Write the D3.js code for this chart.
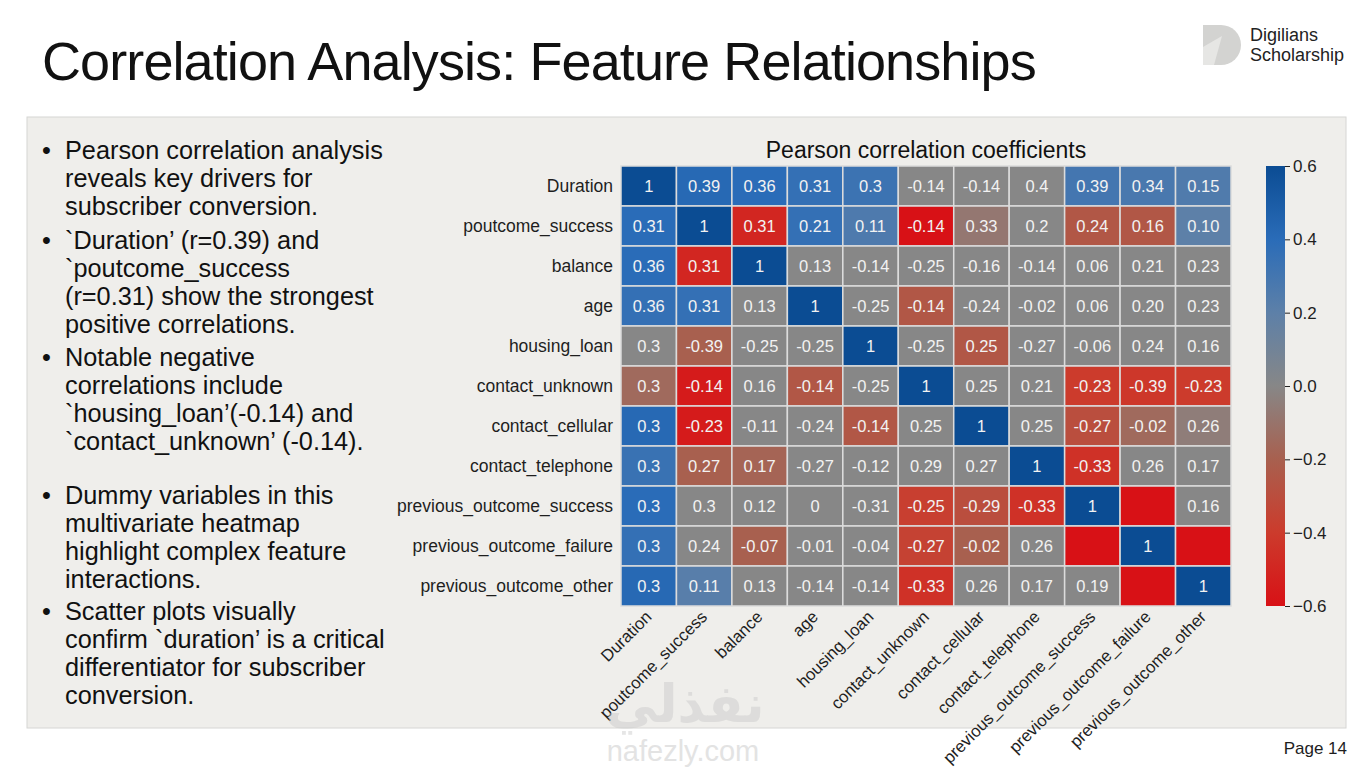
<!DOCTYPE html>
<html>
<head>
<meta charset="utf-8">
<script src="https://cdn.jsdelivr.net/npm/d3@7"></script>
<style>
  body { margin: 0; background: #ffffff; }
  svg { display: block; font-family: "Liberation Sans", Arial, sans-serif; }
</style>
</head>
<body>
<div id="chart"></div>
<script>
// Features (rows and columns of the matrix)
var features = ["Duration", "poutcome_success", "balance", "age", "housing_loan",
  "contact_unknown", "contact_cellular", "contact_telephone",
  "previous_outcome_success", "previous_outcome_failure", "previous_outcome_other"];

// Printed coefficients (null = empty cell)
var labels = [
  [1, 0.39, 0.36, 0.31, 0.3, -0.14, -0.14, 0.4, 0.39, 0.34, 0.15],
  [0.31, 1, 0.31, 0.21, 0.11, -0.14, 0.33, 0.2, 0.24, 0.16, 0.10],
  [0.36, 0.31, 1, 0.13, -0.14, -0.25, -0.16, -0.14, 0.06, 0.21, 0.23],
  [0.36, 0.31, 0.13, 1, -0.25, -0.14, -0.24, -0.02, 0.06, 0.20, 0.23],
  [0.3, -0.39, -0.25, -0.25, 1, -0.25, 0.25, -0.27, -0.06, 0.24, 0.16],
  [0.3, -0.14, 0.16, -0.14, -0.25, 1, 0.25, 0.21, -0.23, -0.39, -0.23],
  [0.3, -0.23, -0.11, -0.24, -0.14, 0.25, 1, 0.25, -0.27, -0.02, 0.26],
  [0.3, 0.27, 0.17, -0.27, -0.12, 0.29, 0.27, 1, -0.33, 0.26, 0.17],
  [0.3, 0.3, 0.12, 0, -0.31, -0.25, -0.29, -0.33, 1, null, 0.16],
  [0.3, 0.24, -0.07, -0.01, -0.04, -0.27, -0.02, 0.26, null, 1, null],
  [0.3, 0.11, 0.13, -0.14, -0.14, -0.33, 0.26, 0.17, 0.19, null, 1]
];

// Colour value of each cell (on the colourbar scale)
var shades = [
  [0.6, 0.42, 0.4, 0.36, 0.33, 0, 0, 0, 0.3, 0.28, 0.25],
  [0.4, 0.6, -0.5, 0.36, 0.26, -0.6, -0.08, 0, -0.25, -0.25, 0.2],
  [0.4, -0.5, 0.6, 0, 0, 0, 0, 0, 0, 0, 0],
  [0.36, 0.36, 0, 0.6, 0, -0.25, 0, 0, 0, 0, 0],
  [0, -0.2, 0, 0, 0.6, 0, -0.25, 0, 0, 0, 0],
  [-0.15, -0.55, 0, -0.25, 0, 0.6, 0, 0, -0.4, -0.42, -0.4],
  [0.42, -0.55, 0, 0, -0.25, 0, 0.6, 0, -0.3, -0.15, -0.05],
  [0.34, -0.2, -0.18, 0, 0, 0, 0, 0.6, -0.45, 0, 0],
  [0.4, 0, 0, 0, 0, -0.38, -0.3, -0.45, 0.6, -0.6, 0],
  [0.36, 0, -0.2, 0, 0, -0.36, -0.2, 0, -0.6, 0.6, -0.6],
  [0.42, 0.22, 0, 0, 0, -0.45, 0, 0, 0, -0.6, 0.6]
];

var colorTicks = [0.6, 0.4, 0.2, 0.0, -0.2, -0.4, -0.6];

var bullets = [
  ["Pearson correlation analysis", "reveals key drivers for", "subscriber conversion."],
  ["`Duration\u2019 (r=0.39) and", "`poutcome_success", "(r=0.31) show the strongest", "positive correlations."],
  ["Notable negative", "correlations include", "`housing_loan\u2019(-0.14) and", "`contact_unknown\u2019 (-0.14)."],
  ["Dummy variables in this", "multivariate heatmap", "highlight complex feature", "interactions."],
  ["Scatter plots visually", "confirm `duration\u2019 is a critical", "differentiator for subscriber", "conversion."]
];
var bulletTops = [159, 249, 366, 504, 620];

var W = 1371, H = 767;
var svg = d3.select("#chart").append("svg")
  .attr("width", W)
  .attr("height", H);

// Page title
svg.append("text")
  .attr("x", 42).attr("y", 80)
  .attr("font-size", 54)
  .attr("letter-spacing", -0.9)
  .attr("fill", "#111")
  .text("Correlation Analysis: Feature Relationships");

// Logo
var logo = svg.append("g");
logo.append("path")
  .attr("d", "M1203,25 H1221 A20,20 0 0 1 1221,65 H1203 Z")
  .attr("fill", "#d3d3d1");
logo.append("path")
  .attr("d", "M1203,47 L1222,36 L1214,65 L1203,65 Z")
  .attr("fill", "#e6e6e4");
logo.append("text").attr("x", 1250).attr("y", 41)
  .attr("font-size", 18).attr("fill", "#222").text("Digilians");
logo.append("text").attr("x", 1250).attr("y", 61)
  .attr("font-size", 18).attr("fill", "#222").text("Scholarship");

// Content panel
svg.append("rect")
  .attr("x", 27).attr("y", 117)
  .attr("width", 1319).attr("height", 611)
  .attr("fill", "#efeeeb")
  .attr("stroke", "#d6d6d4");

// Bullet list
var lineH = 28;
var bl = svg.append("g").attr("fill", "#111").attr("font-size", 25.3);
bullets.forEach(function(lines, i) {
  bl.append("text")
    .attr("x", 42).attr("y", bulletTops[i])
    .text("\u2022");
  lines.forEach(function(line, j) {
    bl.append("text")
      .attr("x", 65).attr("y", bulletTops[i] + j * lineH)
      .text(line);
  });
});

// Heatmap
var gLeft = 621, gTop = 166, gw = 610, gh = 440;

var x = d3.scaleBand()
  .domain(d3.range(features.length))
  .range([gLeft, gLeft + gw]);

var y = d3.scaleBand()
  .domain(d3.range(features.length))
  .range([gTop, gTop + gh]);

var color = d3.scaleLinear()
  .domain([-0.6, -0.4, -0.2, 0, 0.2, 0.4, 0.6])
  .range(["#d81116", "#cc3b2c", "#a8604f", "#878787", "#5d80a8", "#2a6cb8", "#0b4c93"])
  .clamp(true);

var cells = [];
labels.forEach(function(row, r) {
  row.forEach(function(v, c) {
    cells.push({ r: r, c: c, v: v, s: shades[r][c] });
  });
});

var hm = svg.append("g");
hm.selectAll("rect")
  .data(cells)
  .enter()
  .append("rect")
  .attr("x", function(d) { return x(d.c); })
  .attr("y", function(d) { return y(d.r); })
  .attr("width", x.bandwidth())
  .attr("height", y.bandwidth())
  .attr("fill", function(d) { return color(d.s); })
  .attr("stroke", "#dcdcdc")
  .attr("stroke-width", 1.5);

hm.selectAll("text")
  .data(cells.filter(function(d) { return d.v !== null; }))
  .enter()
  .append("text")
  .attr("x", function(d) { return x(d.c) + x.bandwidth() / 2; })
  .attr("y", function(d) { return y(d.r) + y.bandwidth() / 2; })
  .attr("dy", "0.36em")
  .attr("text-anchor", "middle")
  .attr("font-size", 16.5)
  .attr("fill", "#f2f2f2")
  .text(function(d) {
    if (d.v === 1) return "1";
    if (d.v === 0) return "0";
    var s = String(d.v);
    return s.length === 3 && s.indexOf("0.") === 0 && d.c > 8 ? d.v.toFixed(2) : s;
  });

// Row labels
svg.append("g").selectAll("text")
  .data(features)
  .enter()
  .append("text")
  .attr("x", gLeft - 8)
  .attr("y", function(d, i) { return y(i) + y.bandwidth() / 2; })
  .attr("dy", "0.36em")
  .attr("text-anchor", "end")
  .attr("font-size", 17.5)
  .attr("fill", "#1e1e1e")
  .text(function(d) { return d; });

// Column labels (rotated)
svg.append("g").selectAll("text")
  .data(features)
  .enter()
  .append("text")
  .attr("transform", function(d, i) {
    return "translate(" + (x(i) + x.bandwidth() / 2 + 4) + "," + (gTop + gh + 12) + ") rotate(-45)";
  })
  .attr("text-anchor", "end")
  .attr("font-size", 16.8)
  .attr("fill", "#1e1e1e")
  .text(function(d) { return d; });

// Chart title
svg.append("text")
  .attr("x", gLeft + gw / 2).attr("y", 158)
  .attr("text-anchor", "middle")
  .attr("font-size", 23)
  .attr("fill", "#111")
  .text("Pearson correlation coefficients");

// Colour bar
var cbx = 1266, cbw = 19;
var cy = d3.scaleLinear().domain([-0.6, 0.6]).range([gTop + gh, gTop]);

var grad = svg.append("defs").append("linearGradient")
  .attr("id", "cbar")
  .attr("x1", 0).attr("y1", 1).attr("x2", 0).attr("y2", 0);
grad.selectAll("stop")
  .data(color.domain())
  .enter()
  .append("stop")
  .attr("offset", function(d) { return (d + 0.6) / 1.2; })
  .attr("stop-color", function(d) { return color(d); });

svg.append("rect")
  .attr("x", cbx).attr("y", gTop)
  .attr("width", cbw).attr("height", gh)
  .attr("fill", "url(#cbar)");

var cAxis = svg.append("g")
  .attr("transform", "translate(" + (cbx + cbw) + ",0)")
  .call(d3.axisRight(cy).tickValues(colorTicks).tickFormat(d3.format(".1f")).tickSize(5).tickPadding(3));
cAxis.select(".domain").remove();
cAxis.selectAll("line").attr("stroke", "#222");
cAxis.selectAll("text").attr("font-size", 17).attr("fill", "#1e1e1e")
  .attr("font-family", "Liberation Sans, Arial, sans-serif");

// Watermark
svg.append("text")
  .attr("x", 685).attr("y", 722)
  .attr("text-anchor", "middle")
  .attr("font-size", 52).attr("font-weight", "bold")
  .attr("fill", "#c8c8c8").attr("opacity", 0.45)
  .attr("font-family", "DejaVu Sans, sans-serif")
  .text("نفذلي");
svg.append("text")
  .attr("x", 683).attr("y", 761)
  .attr("text-anchor", "middle")
  .attr("font-size", 29)
  .attr("fill", "#c8c8c8").attr("opacity", 0.5)
  .text("nafezly.com");

// Page number
svg.append("text")
  .attr("x", 1347).attr("y", 754)
  .attr("text-anchor", "end")
  .attr("font-size", 17)
  .attr("fill", "#1e1e1e")
  .text("Page 14");
</script>
</body>
</html>
